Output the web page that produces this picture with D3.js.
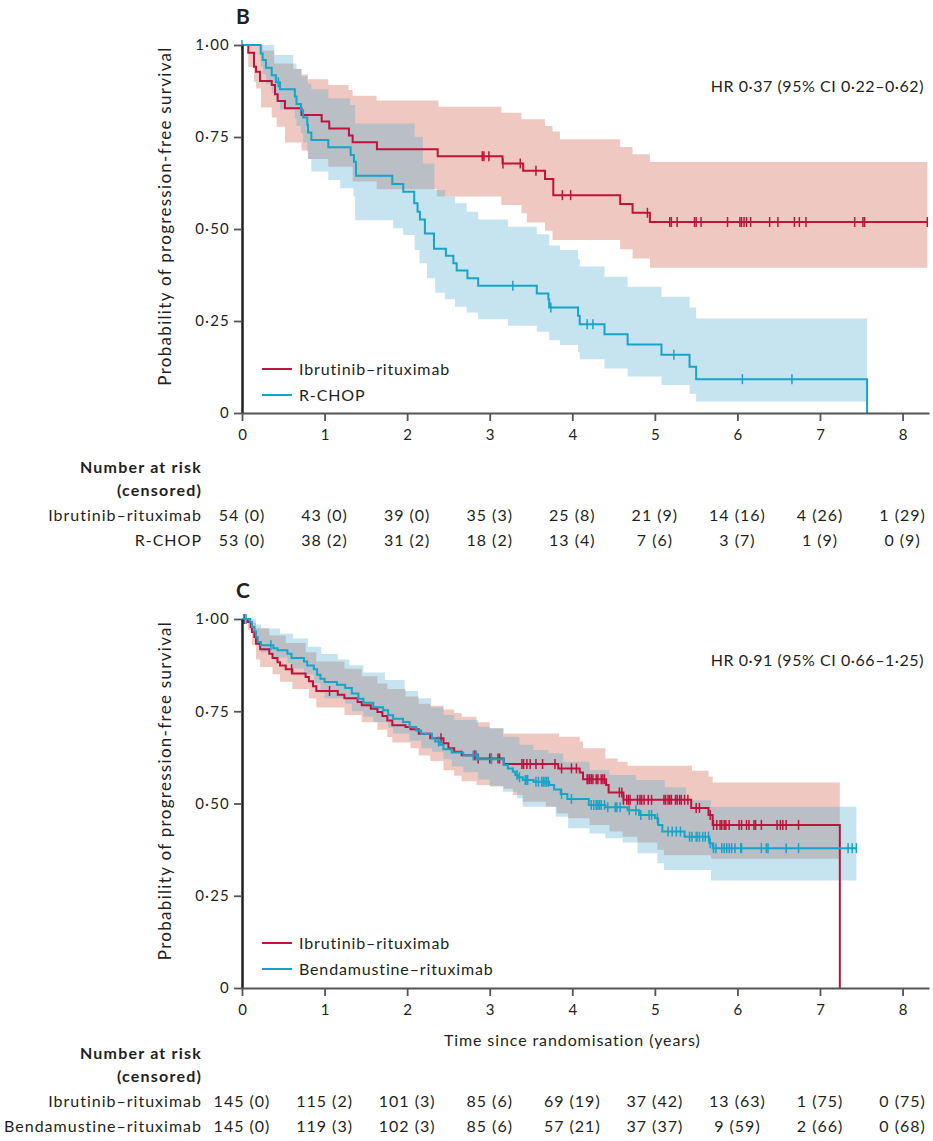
<!DOCTYPE html>
<html lang="en">
<head>
<meta charset="UTF-8">
<script src="https://d3js.org/d3.v7.min.js"></script>
<title>Progression-free survival</title>
<style>
  body { margin: 0; background: #fff; }
  text { font-family: Lato, "Open Sans", sans-serif; fill: #231f20; }
</style>
</head>
<body>
<script>
// ---- shared axis data ----
var years = [0, 1, 2, 3, 4, 5, 6, 7, 8];
var yTicks = [0, 0.25, 0.5, 0.75, 1];
var yTickLabels = ["0", "0·25", "0·50", "0·75", "1·00"];

// ---- panel B: ibrutinib-rituximab vs R-CHOP ----
var irB = [[0,1],[0.076,0.979],[0.145,0.941],[0.17,0.927],[0.218,0.902],[0.36,0.891],[0.40,0.866],
  [0.432,0.848],[0.52,0.828],[0.72,0.810],[0.965,0.792],[1.057,0.773],[1.295,0.754],[1.34,0.736],
  [1.634,0.717],[2.37,0.698],[3.155,0.678],[3.405,0.658],[3.67,0.636],[3.77,0.592],[4.58,0.568],
  [4.73,0.544],[4.94,0.519],[8.30,0.519]];
var irCensB = [2.91,2.93,2.99,3.16,3.37,3.56,3.88,3.98,4.91,5.18,5.20,5.27,5.48,5.50,5.56,5.88,
  6.03,6.05,6.08,6.11,6.16,6.39,6.49,6.69,6.75,6.83,7.42,7.52,7.54,8.30];
// [time, lower, upper]
var irBandB = [[0,1,1],[0.076,0.94,1],[0.145,0.90,1],[0.17,0.882,1],[0.23,0.83,1],[0.25,0.83,0.985],
  [0.36,0.803,0.985],[0.39,0.803,0.95],[0.42,0.778,0.95],[0.52,0.735,0.95],[0.62,0.735,0.935],
  [0.72,0.713,0.92],[0.80,0.69,0.907],[1.045,0.669,0.891],[1.29,0.669,0.878],[1.34,0.629,0.862],
  [1.63,0.608,0.849],[2.36,0.588,0.849],[2.38,0.588,0.832],[3.14,0.565,0.816],[3.385,0.543,0.798],
  [3.45,0.518,0.798],[3.67,0.495,0.780],[3.76,0.470,0.765],[3.85,0.470,0.744],[4.58,0.445,0.723],
  [4.73,0.420,0.703],[4.94,0.395,0.682],[8.30,0.395,0.682]];

var rchop = [[0,1],[0.226,0.977],[0.25,0.959],[0.29,0.938],[0.36,0.918],[0.41,0.899],[0.46,0.880],
  [0.64,0.860],[0.66,0.840],[0.714,0.823],[0.74,0.803],[0.79,0.783],[0.80,0.762],[0.84,0.742],
  [1.045,0.722],[1.316,0.701],[1.356,0.683],[1.38,0.645],[1.82,0.622],[1.953,0.601],[2.086,0.570],
  [2.126,0.547],[2.155,0.526],[2.215,0.488],[2.325,0.446],[2.47,0.427],[2.56,0.407],[2.60,0.387],
  [2.73,0.366],[2.86,0.346],[3.57,0.325],[3.71,0.309],[3.72,0.287],[4.07,0.264],[4.09,0.241],
  [4.39,0.214],[4.67,0.186],[5.08,0.158],[5.42,0.126],[5.50,0.092],[7.57,0]];
var rchopCens = [0.0,0.44,3.28,3.74,4.18,4.25,5.23,6.06,6.66];
var rchopBand = [[0,1,1],[0.226,0.94,1],[0.25,0.92,1],[0.29,0.895,1],[0.36,0.87,1],[0.39,0.87,0.973],
  [0.41,0.85,0.973],[0.46,0.825,0.973],[0.62,0.825,0.95],[0.64,0.80,0.95],[0.66,0.78,0.935],
  [0.714,0.76,0.935],[0.72,0.76,0.915],[0.74,0.735,0.915],[0.79,0.712,0.90],[0.80,0.69,0.895],
  [0.84,0.656,0.88],[1.045,0.633,0.855],[1.19,0.611,0.855],[1.31,0.611,0.837],[1.35,0.588,0.837],
  [1.37,0.524,0.787],[1.83,0.502,0.787],[1.95,0.484,0.787],[2.09,0.443,0.751],[2.15,0.407,0.751],
  [2.19,0.407,0.678],[2.24,0.366,0.678],[2.33,0.366,0.606],[2.34,0.327,0.606],[2.46,0.309,0.588],
  [2.58,0.289,0.570],[2.72,0.273,0.547],[2.86,0.255,0.526],[3.22,0.237,0.506],[3.57,0.221,0.486],
  [3.72,0.198,0.455],[3.85,0.185,0.443],[4.07,0.165,0.418],[4.09,0.146,0.398],[4.39,0.121,0.370],
  [4.67,0.099,0.343],[5.08,0.076,0.316],[5.42,0.052,0.287],[5.50,0.031,0.257],[7.57,0.031,0.257]];

var riskIrB = ["54 (0)","43 (0)","39 (0)","35 (3)","25 (8)","21 (9)","14 (16)","4 (26)","1 (29)"];
var riskRchop = ["53 (0)","38 (2)","31 (2)","18 (2)","13 (4)","7 (6)","3 (7)","1 (9)","0 (9)"];

// ---- panel C: ibrutinib-rituximab vs bendamustine-rituximab ----
var irC = [[0,1],[0.07,0.992],[0.105,0.978],[0.12,0.965],[0.15,0.951],[0.17,0.933],[0.22,0.918],
  [0.33,0.906],[0.37,0.894],[0.43,0.883],[0.46,0.874],[0.53,0.864],[0.61,0.852],[0.77,0.843],
  [0.81,0.831],[0.86,0.818],[0.90,0.805],[1.16,0.795],[1.24,0.785],[1.40,0.775],[1.45,0.766],
  [1.56,0.757],[1.64,0.748],[1.70,0.737],[1.76,0.725],[1.82,0.712],[1.98,0.707],[2.04,0.701],
  [2.14,0.689],[2.28,0.677],[2.44,0.663],[2.50,0.650],[2.57,0.640],[2.66,0.631],[2.84,0.622],
  [3.17,0.607],[3.83,0.595],[4.09,0.584],[4.13,0.566],[4.41,0.550],[4.44,0.530],[4.62,0.510],
  [5.44,0.488],[5.65,0.469],[5.70,0.442],[7.24,0]];
var irCensC = [0.03,0.60,1.06,2.41,2.82,2.86,3.00,3.02,3.10,3.12,3.39,3.41,3.45,3.49,3.56,3.64,3.79,
  3.87,3.99,4.05,4.18,4.19,4.21,4.23,4.25,4.29,4.31,4.35,4.37,4.39,4.57,4.60,4.62,4.66,4.68,4.70,
  4.79,4.82,4.84,4.87,4.92,4.96,5.11,5.13,5.16,5.18,5.20,5.25,5.27,5.30,5.32,5.36,5.40,5.50,5.54,
  5.67,5.71,5.75,5.79,5.81,5.84,5.86,5.90,6.02,6.05,6.11,6.14,6.20,6.22,6.29,6.48,6.52,6.55,6.59,6.74];
var irBandC = [[0,1,1],[0.07,0.97,1],[0.11,0.97,0.99],[0.12,0.93,0.99],[0.17,0.89,0.975],
  [0.22,0.87,0.975],[0.33,0.87,0.955],[0.37,0.85,0.955],[0.46,0.83,0.955],[0.53,0.83,0.935],
  [0.61,0.81,0.935],[0.77,0.81,0.91],[0.81,0.785,0.91],[0.90,0.76,0.885],[1.24,0.74,0.865],
  [1.45,0.72,0.845],[1.64,0.70,0.825],[1.76,0.68,0.81],[1.82,0.665,0.81],[1.98,0.665,0.79],
  [2.04,0.65,0.79],[2.14,0.63,0.77],[2.28,0.615,0.765],[2.44,0.59,0.755],[2.57,0.575,0.745],
  [2.66,0.56,0.735],[2.84,0.55,0.72],[3.00,0.546,0.704],[3.17,0.54,0.690],[3.28,0.523,0.690],
  [3.40,0.505,0.690],[3.68,0.491,0.690],[3.81,0.473,0.690],[3.84,0.473,0.681],[3.95,0.46,0.681],
  [4.09,0.46,0.668],[4.13,0.46,0.650],[4.21,0.442,0.650],[4.40,0.442,0.622],[4.45,0.424,0.622],
  [4.55,0.424,0.613],[4.61,0.41,0.613],[4.67,0.41,0.602],[4.79,0.394,0.602],[5.03,0.375,0.602],
  [5.11,0.36,0.602],[5.45,0.36,0.589],[5.65,0.36,0.573],[5.68,0.35,0.573],[5.70,0.35,0.557],
  [7.24,0.35,0.557]];

var brC = [[0,1],[0.10,0.992],[0.12,0.978],[0.15,0.966],[0.17,0.951],[0.19,0.938],[0.23,0.929],
  [0.38,0.921],[0.43,0.915],[0.55,0.906],[0.60,0.894],[0.75,0.885],[0.79,0.874],[0.87,0.864],
  [0.91,0.849],[0.95,0.838],[1.00,0.829],[1.15,0.822],[1.25,0.813],[1.33,0.798],[1.41,0.784],
  [1.47,0.773],[1.59,0.761],[1.71,0.753],[1.77,0.739],[1.83,0.730],[1.95,0.721],[2.03,0.707],
  [2.11,0.698],[2.17,0.689],[2.30,0.677],[2.34,0.668],[2.40,0.659],[2.44,0.647],[2.54,0.638],
  [2.68,0.630],[2.86,0.620],[3.17,0.604],[3.22,0.595],[3.28,0.586],[3.31,0.577],[3.34,0.571],
  [3.40,0.564],[3.53,0.559],[3.72,0.550],[3.78,0.538],[3.86,0.526],[3.94,0.512],[4.20,0.496],
  [4.40,0.490],[4.67,0.482],[4.81,0.469],[5.00,0.460],[5.04,0.442],[5.09,0.424],[5.36,0.410],
  [5.66,0.392],[5.70,0.379],[7.44,0.379]];
var brCens = [0.02,0.05,0.35,2.38,2.80,2.84,3.02,3.33,3.36,3.43,3.45,3.46,3.56,3.59,3.63,3.65,3.67,
  3.69,3.71,3.87,3.99,4.23,4.26,4.29,4.31,4.33,4.35,4.39,4.43,4.52,4.54,4.58,4.69,4.77,4.83,4.93,
  4.96,5.03,5.16,5.21,5.26,5.31,5.42,5.45,5.50,5.51,5.54,5.58,5.61,5.65,5.67,5.71,5.74,5.81,5.84,
  5.87,5.90,5.93,5.97,6.04,6.05,6.29,6.35,6.37,6.59,6.74,7.34,7.39,7.44];
var brBand = [[0,1,1],[0.10,0.98,1],[0.15,0.955,1],[0.17,0.955,0.985],[0.19,0.93,0.985],
  [0.23,0.91,0.974],[0.38,0.895,0.974],[0.46,0.895,0.96],[0.55,0.88,0.96],[0.60,0.865,0.96],
  [0.62,0.865,0.947],[0.75,0.85,0.947],[0.80,0.85,0.925],[0.87,0.825,0.925],[0.95,0.80,0.925],
  [0.96,0.80,0.905],[1.00,0.785,0.905],[1.16,0.785,0.89],[1.25,0.77,0.89],[1.30,0.77,0.875],
  [1.33,0.75,0.875],[1.47,0.735,0.855],[1.59,0.72,0.855],[1.73,0.72,0.835],[1.77,0.705,0.835],
  [1.83,0.69,0.835],[1.97,0.69,0.805],[2.03,0.67,0.805],[2.13,0.67,0.785],[2.17,0.65,0.785],
  [2.29,0.65,0.76],[2.30,0.64,0.76],[2.44,0.62,0.74],[2.54,0.60,0.74],[2.57,0.60,0.726],
  [2.68,0.585,0.726],[2.86,0.565,0.708],[3.00,0.548,0.704],[3.16,0.532,0.681],[3.33,0.514,0.681],
  [3.36,0.514,0.659],[3.40,0.491,0.659],[3.53,0.491,0.645],[3.71,0.491,0.636],[3.80,0.464,0.636],
  [3.89,0.464,0.613],[3.95,0.433,0.613],[4.21,0.419,0.591],[4.40,0.406,0.591],[4.45,0.406,0.577],
  [4.61,0.394,0.577],[4.77,0.394,0.564],[4.79,0.365,0.564],[5.03,0.338,0.564],[5.11,0.32,0.564],
  [5.12,0.32,0.544],[5.38,0.32,0.509],[5.68,0.291,0.491],[7.44,0.291,0.491]];

var riskIrC = ["145 (0)","115 (2)","101 (3)","85 (6)","69 (19)","37 (42)","13 (63)","1 (75)","0 (75)"];
var riskBr = ["145 (0)","119 (3)","102 (3)","85 (6)","57 (21)","37 (37)","9 (59)","2 (66)","0 (68)"];

// ---- styles ----
var red = "#c0123c", blue = "#18a3c9";
var pinkBand = "#efc9c1", blueBand = "rgba(74,171,205,0.32)";

var panels = [
  { label: "B", top: 45, bottom: 413, hr: "HR 0·37 (95% CI 0·22–0·62)", legendY: 369, tableY: 473, xTitle: false,
    series: [
      { name: "Ibrutinib–rituximab", color: red, fill: pinkBand, curve: irB, cens: irCensB, band: irBandB, risk: riskIrB },
      { name: "R-CHOP", color: blue, fill: blueBand, curve: rchop, cens: rchopCens, band: rchopBand, risk: riskRchop }
    ] },
  { label: "C", top: 619, bottom: 988, hr: "HR 0·91 (95% CI 0·66–1·25)", legendY: 943, tableY: 1059, xTitle: true,
    series: [
      { name: "Ibrutinib–rituximab", color: red, fill: pinkBand, curve: irC, cens: irCensC, band: irBandC, risk: riskIrC },
      { name: "Bendamustine–rituximab", color: blue, fill: blueBand, curve: brC, cens: brCens, band: brBand, risk: riskBr }
    ] }
];

var svg = d3.select("body").append("svg").attr("width", 933).attr("height", 1141);
var x = d3.scaleLinear().domain([0, 8.32]).range([242, 929]);

function valueAt(curve, t) {
  var i = d3.bisector(function (d) { return d[0]; }).right(curve, t) - 1;
  return curve[Math.max(0, i)][1];
}

panels.forEach(function (p) {
  var y = d3.scaleLinear().domain([0, 1]).range([p.bottom, p.top]);
  var g = svg.append("g");

  g.append("text").attr("x", 243).attr("y", p.top - 21).attr("text-anchor", "middle")
    .style("font-size", "21px").style("font-weight", "bold").text(p.label);

  // confidence bands
  var area = d3.area().curve(d3.curveStepAfter)
    .x(function (d) { return x(d[0]); })
    .y0(function (d) { return y(d[1]); })
    .y1(function (d) { return y(d[2]); });
  p.series.forEach(function (s) {
    g.append("path").attr("d", area(s.band)).attr("fill", s.fill);
  });

  // survival curves with censor ticks
  var line = d3.line().curve(d3.curveStepAfter)
    .x(function (d) { return x(d[0]); })
    .y(function (d) { return y(d[1]); });
  p.series.forEach(function (s) {
    g.append("path").attr("d", line(s.curve)).attr("fill", "none")
      .attr("stroke", s.color).attr("stroke-width", 2);
    g.selectAll(null).data(s.cens).enter().append("line")
      .attr("x1", function (t) { return x(t); }).attr("x2", function (t) { return x(t); })
      .attr("y1", function (t) { return y(valueAt(s.curve, t)) - 5; })
      .attr("y2", function (t) { return y(valueAt(s.curve, t)) + 5; })
      .attr("stroke", s.color).attr("stroke-width", 1.5);
  });

  // axes
  var yAxis = g.append("g").attr("transform", "translate(242,0)")
    .call(d3.axisLeft(y).tickValues(yTicks).tickFormat(function (d, i) { return yTickLabels[i]; })
      .tickSize(8).tickSizeOuter(0).tickPadding(4));
  yAxis.select(".domain").attr("stroke", "#231f20").attr("stroke-width", 2.5);
  yAxis.selectAll(".tick line").attr("stroke", "#555").attr("stroke-width", 1.8);
  yAxis.selectAll("text").style("font-size", "15px").style("font-family", "Lato")
    .style("letter-spacing", "1.2px").attr("fill", "#231f20");

  var xAxis = g.append("g").attr("transform", "translate(0," + p.bottom + ")")
    .call(d3.axisBottom(x).tickValues(years).tickFormat(d3.format("d"))
      .tickSize(8).tickSizeOuter(0).tickPadding(8));
  xAxis.select(".domain").attr("stroke", "#555").attr("stroke-width", 2);
  xAxis.selectAll(".tick line").attr("stroke", "#555").attr("stroke-width", 1.8);
  xAxis.selectAll("text").style("font-size", "15px").style("font-family", "Lato").attr("fill", "#231f20");

  g.append("text").attr("transform", "translate(171," + ((p.top + p.bottom) / 2 - 13) + ") rotate(-90)")
    .attr("text-anchor", "middle").style("font-size", "17px").style("letter-spacing", "1.3px")
    .text("Probability of progression-free survival");

  g.append("text").attr("x", 924).attr("y", p.top + 47).attr("text-anchor", "end")
    .style("font-size", "16px").style("letter-spacing", "0.55px").text(p.hr);

  // legend
  p.series.forEach(function (s, i) {
    var ly = p.legendY + i * 26;
    g.append("line").attr("x1", 262).attr("x2", 292).attr("y1", ly).attr("y2", ly)
      .attr("stroke", s.color).attr("stroke-width", 2);
    g.append("text").attr("x", 299).attr("y", ly + 6).style("font-size", "16px")
      .style("letter-spacing", "0.85px").text(s.name);
  });

  if (p.xTitle) {
    g.append("text").attr("x", x(4)).attr("y", p.bottom + 58).attr("text-anchor", "middle")
      .style("font-size", "16px").style("letter-spacing", "0.9px").text("Time since randomisation (years)");
  }

  // number at risk table
  g.append("text").attr("x", 202).attr("y", p.tableY).attr("text-anchor", "end")
    .style("font-size", "16px").style("font-weight", "bold").style("letter-spacing", "1.2px").text("Number at risk");
  g.append("text").attr("x", 202).attr("y", p.tableY + 23).attr("text-anchor", "end")
    .style("font-size", "16px").style("font-weight", "bold").style("letter-spacing", "1.2px").text("(censored)");
  p.series.forEach(function (s, i) {
    var ry = p.tableY + 48 + i * 25;
    g.append("text").attr("x", 202).attr("y", ry).attr("text-anchor", "end")
      .style("font-size", "16px").style("letter-spacing", "1px").text(s.name);
    g.selectAll(null).data(s.risk).enter().append("text")
      .attr("x", function (d, j) { return x(years[j]); }).attr("y", ry)
      .attr("text-anchor", "middle").style("font-size", "16px").style("letter-spacing", "1px")
      .text(function (d) { return d; });
  });
});
</script>
</body>
</html>
